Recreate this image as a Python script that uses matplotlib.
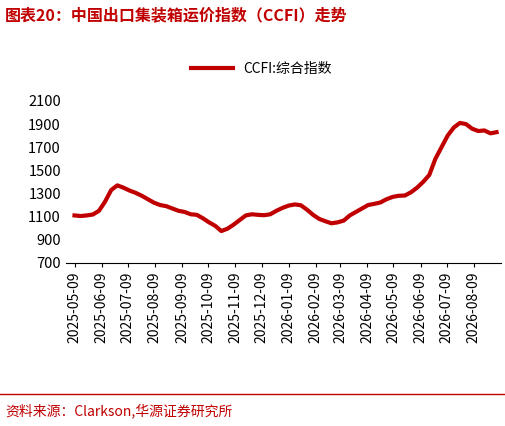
import numpy as np
import pandas as pd
import matplotlib.pyplot as plt
import matplotlib.dates as mdates

plt.rcParams['font.family'] = ['Noto Sans CJK SC', 'DejaVu Sans']

ccfi = [1110, 1105, 1110, 1118, 1150, 1230, 1330, 1370, 1350, 1325, 1305, 1280,
        1250, 1220, 1200, 1190, 1170, 1150, 1140, 1120, 1115, 1085, 1050, 1020,
        975, 995, 1030, 1070, 1110, 1120, 1115, 1112, 1120, 1150, 1175, 1195,
        1205, 1198, 1160, 1115, 1080, 1060, 1042, 1050, 1065, 1110, 1140, 1170,
        1200, 1210, 1222, 1250, 1270, 1280, 1282, 1310, 1350, 1400, 1460, 1600,
        1700, 1800, 1870, 1910, 1900, 1860, 1840, 1845, 1820, 1830]
dates = pd.date_range('2025-05-09', periods=len(ccfi), freq='7D')
tick_dates = pd.date_range('2025-05-09', periods=16, freq=pd.DateOffset(months=1))
yticks = list(range(700, 2101, 200))

fig = plt.figure(figsize=(5.06, 4.26), dpi=100)
ax = fig.add_axes([0.13, 0.383, 0.86, 0.38])
ax.plot(dates, ccfi, color='#c00000', lw=3, label='CCFI:综合指数')
ax.set_ylim(700, 2100)
ax.set_yticks(yticks)
ax.set_xlim(dates[0] - pd.Timedelta(days=10), dates[-1] + pd.Timedelta(days=5))
ax.set_xticks(tick_dates)
ax.xaxis.set_major_formatter(mdates.DateFormatter('%Y-%m-%d'))
ax.tick_params(axis='x', rotation=90, labelsize=10, length=3)
ax.tick_params(axis='y', labelsize=10.5, length=0)
for s in ['top', 'right', 'left']:
    ax.spines[s].set_visible(False)
ax.legend(loc='upper center', bbox_to_anchor=(0.45, 1.32), frameon=False,
          fontsize=10, handlelength=3)

fig.text(0.01, 0.965, '图表20：中国出口集装箱运价指数（CCFI）走势', color='#c00000',
         fontsize=11.5, fontweight='bold', va='center')
fig.add_artist(plt.Line2D([0, 1], [0.075, 0.075], color='#c00000', lw=1))
fig.text(0.01, 0.035, '资料来源：Clarkson,华源证券研究所', color='#c00000',
         fontsize=10, va='center')
fig.savefig('out.png')
